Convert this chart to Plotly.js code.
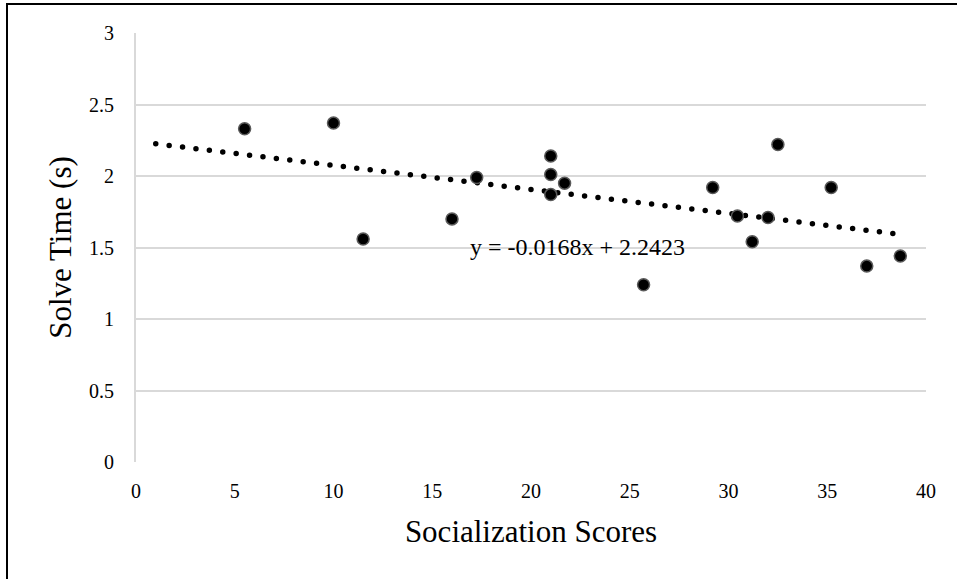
<!DOCTYPE html>
<html>
<head>
<meta charset="utf-8">
<script src="https://cdn.plot.ly/plotly-3.0.1.min.js"></script>
<style>
  html, body { margin: 0; padding: 0; background: #fff; }
  #wrap { position: relative; width: 957px; height: 579px; }
  #chart { width: 957px; height: 579px; }
  #frame { position: absolute; left: 6px; top: 3px; width: 960px; height: 574px;
           border-left: 2px solid #000; border-top: 2px solid #000; border-bottom: 1px solid #bfbfbf;
           pointer-events: none; }
  .scatterlayer .js-line { stroke-linecap: round !important; }
</style>
</head>
<body>
<div id="wrap">
  <div id="chart"></div>
  <div id="frame"></div>
</div>
<script>
// Data
const socializationScores = [5.5, 10, 11.5, 16, 17.25, 21, 21, 21, 21.7, 25.7, 29.2, 30.45, 31.2, 32, 32.5, 35.2, 37, 38.7];
const solveTimes          = [2.33, 2.37, 1.56, 1.70, 1.99, 2.14, 2.01, 1.87, 1.95, 1.24, 1.92, 1.72, 1.54, 1.71, 2.22, 1.92, 1.37, 1.44];

// Trendline as labelled on the chart
const trendSlope = -0.0168;
const trendIntercept = 2.2423;
const trendXRange = [1, 38.7];
const trendLabel = "y = -0.0168x + 2.2423";

const xTicks = [0, 5, 10, 15, 20, 25, 30, 35, 40];
const yTicks = [0, 0.5, 1, 1.5, 2, 2.5, 3];
const yTickText = ["0", "0.5", "1", "1.5", "2", "2.5", "3"];

const trendY = trendXRange.map(x => trendSlope * x + trendIntercept);

const font = "Liberation Serif";

const traces = [
  {
    x: trendXRange, y: trendY, type: "scatter", mode: "lines",
    line: { color: "#000", width: 5.5, dash: "0px,13.5px" },
    hoverinfo: "skip", showlegend: false
  },
  {
    x: socializationScores, y: solveTimes, type: "scatter", mode: "markers",
    marker: { color: "#000", size: 12, line: { color: "#5a5a5a", width: 1.5 } },
    showlegend: false
  }
];

const layout = {
  width: 957, height: 579,
  margin: { l: 136, r: 31, t: 33, b: 117, pad: 0 },
  paper_bgcolor: "#fff", plot_bgcolor: "#fff",
  font: { family: font, color: "#000", size: 20 },
  showlegend: false,
  xaxis: {
    range: [0, 40], tickvals: xTicks, ticktext: xTicks.map(String),
    showgrid: false, zeroline: false, showline: false,
    ticks: "", ticklabelstandoff: 15,
    tickfont: { family: font, size: 20, color: "#000" },
    title: { text: "Socialization Scores", font: { family: font, size: 31, color: "#000" }, standoff: 19 },
    fixedrange: true
  },
  yaxis: {
    range: [0, 3], tickvals: yTicks, ticktext: yTickText,
    showgrid: true, gridcolor: "#d9d9d9", gridwidth: 2,
    zeroline: false, showline: true, linecolor: "#d9d9d9", linewidth: 2,
    ticks: "", ticklabelstandoff: 16,
    tickfont: { family: font, size: 20, color: "#000" },
    title: { text: "Solve Time (s)", font: { family: font, size: 31, color: "#000" }, standoff: 8 },
    fixedrange: true
  },
  annotations: [
    {
      x: 22.33, y: 1.505, xref: "x", yref: "y", xanchor: "center", yanchor: "middle",
      text: trendLabel, showarrow: false,
      font: { family: font, size: 24, color: "#000" }
    }
  ]
};

Plotly.newPlot("chart", traces, layout, { displayModeBar: false, staticPlot: true });
</script>
</body>
</html>
